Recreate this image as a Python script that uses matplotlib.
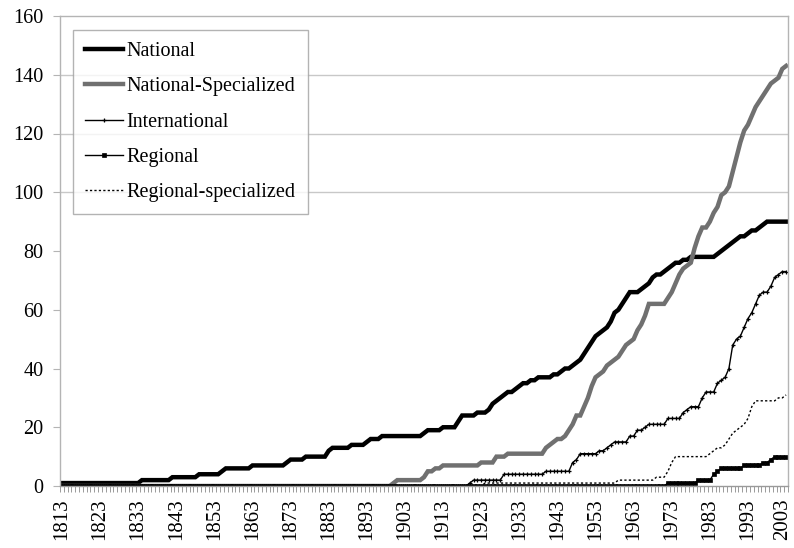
import matplotlib
matplotlib.use('Agg')
import matplotlib.pyplot as plt
from matplotlib.ticker import FixedLocator
from matplotlib.transforms import ScaledTranslation

plt.rcParams['font.family'] = ['Liberation Serif', 'DejaVu Serif']

# one value per year, 1813 -> 2003 (rows = decades starting 1813, 1823, ...)
YEARS = list(range(1813, 2004))

NATIONAL = (
    [1] * 20
    + [1, 2, 2, 2, 2, 2, 2, 2, 2, 3]
    + [3, 3, 3, 3, 3, 3, 4, 4, 4, 4]
    + [4, 4, 5, 6, 6, 6, 6, 6, 6, 6]
    + [7, 7, 7, 7, 7, 7, 7, 7, 7, 8]
    + [9, 9, 9, 9, 10, 10, 10, 10, 10, 10]
    + [12, 13, 13, 13, 13, 13, 14, 14, 14, 14]
    + [15, 16, 16, 16, 17, 17, 17, 17, 17, 17]
    + [17, 17, 17, 17, 17, 18, 19, 19, 19, 19]
    + [20, 20, 20, 20, 22, 24, 24, 24, 24, 25]
    + [25, 25, 26, 28, 29, 30, 31, 32, 32, 33]
    + [34, 35, 35, 36, 36, 37, 37, 37, 37, 38]
    + [38, 39, 40, 40, 41, 42, 43, 45, 47, 49]
    + [51, 52, 53, 54, 56, 59, 60, 62, 64, 66]
    + [66, 66, 67, 68, 69, 71, 72, 72, 73, 74]
    + [75, 76, 76, 77, 77, 78, 78, 78, 78, 78]
    + [78, 78, 79, 80, 81, 82, 83, 84, 85, 85]
    + [86, 87, 87, 88, 89, 90, 90, 90, 90, 90]
    + [90]
)

NATIONAL_SPEC = (
    [0] * 80
    + [0, 0, 0, 0, 0, 0, 0, 1, 2, 2]
    + [2, 2, 2, 2, 2, 3, 5, 5, 6, 6]
    + [7, 7, 7, 7, 7, 7, 7, 7, 7, 7]
    + [8, 8, 8, 8, 10, 10, 10, 11, 11, 11]
    + [11, 11, 11, 11, 11, 11, 11, 13, 14, 15]
    + [16, 16, 17, 19, 21, 24, 24, 27, 30, 34]
    + [37, 38, 39, 41, 42, 43, 44, 46, 48, 49]
    + [50, 53, 55, 58, 62, 62, 62, 62, 62, 64]
    + [66, 69, 72, 74, 75, 76, 81, 85, 88, 88]
    + [90, 93, 95, 99, 100, 102, 107, 112, 117, 121]
    + [123, 126, 129, 131, 133, 135, 137, 138, 139, 142]
    + [143]
)

INTERNATIONAL = (
    [0] * 100
    + [0, 0, 0, 0, 0, 0, 0, 1, 2, 2]
    + [2, 2, 2, 2, 2, 2, 4, 4, 4, 4]
    + [4, 4, 4, 4, 4, 4, 4, 5, 5, 5]
    + [5, 5, 5, 5, 8, 9, 11, 11, 11, 11]
    + [11, 12, 12, 13, 14, 15, 15, 15, 15, 17]
    + [17, 19, 19, 20, 21, 21, 21, 21, 21, 23]
    + [23, 23, 23, 25, 26, 27, 27, 27, 30, 32]
    + [32, 32, 35, 36, 37, 40, 48, 50, 51, 54]
    + [57, 59, 62, 65, 66, 66, 68, 71, 72, 73]
    + [73]
)

REGIONAL = (
    [0] * 150
    + [0, 0, 0, 0, 0, 0, 0, 0, 0, 1]
    + [1, 1, 1, 1, 1, 1, 1, 2, 2, 2]
    + [2, 4, 5, 6, 6, 6, 6, 6, 6, 7]
    + [7, 7, 7, 7, 8, 8, 9, 10, 10, 10]
    + [10]
)

REGIONAL_SPEC = (
    [0] * 110
    + [0, 1, 1, 1, 1, 1, 1, 1, 1, 1]
    + [1, 1, 1, 1, 1, 1, 1, 1, 1, 1]
    + [1, 1, 1, 1, 1, 1, 1, 1, 1, 1]
    + [1, 1, 1, 1, 1, 1, 2, 2, 2, 2]
    + [2, 2, 2, 2, 2, 2, 3, 3, 3, 5]
    + [8, 10, 10, 10, 10, 10, 10, 10, 10, 10]
    + [11, 12, 13, 13, 14, 16, 18, 19, 20, 21]
    + [23, 27, 29, 29, 29, 29, 29, 29, 30, 30]
    + [31]
)

LABEL_YEARS = list(range(1813, 2004, 10))
Y_TICKS = [0, 20, 40, 60, 80, 100, 120, 140, 160]
GRID_LEVELS = [100, 120, 140]

GRAY_FRAME = '#b4b4b4'

fig = plt.figure(figsize=(7.94, 5.48), dpi=100)
ax = fig.add_axes([60 / 794, 62 / 548, 728 / 794, 470 / 548])

for lvl in GRID_LEVELS:
    ax.axhline(lvl, color='#c8c8c8', lw=1.0, zorder=0)

ax.plot(YEARS, NATIONAL, color='black', lw=3.2, label='National',
        solid_joinstyle='miter')
ax.plot(YEARS, NATIONAL_SPEC, color='#707070', lw=3.2,
        label='National-Specialized', solid_joinstyle='miter')
ax.plot(YEARS, INTERNATIONAL, color='black', lw=1.0, marker='+',
        ms=3.5, mew=0.9, label='International')
ax.plot(YEARS, REGIONAL, color='black', lw=1.0, marker='s', ms=2.4,
        mew=0.5, label='Regional')
ax.plot(YEARS, REGIONAL_SPEC, color='black', lw=1.0, ls=(0, (1.6, 1.6)),
        label='Regional-specialized')

ax.set_xlim(1812.5, 2003.5)
ax.set_ylim(0, 160)

ax.set_yticks(Y_TICKS)
ax.tick_params(axis='y', direction='out', length=5, width=0.8,
               color=GRAY_FRAME, labelsize=14.5, pad=7)

ax.xaxis.set_major_locator(FixedLocator(LABEL_YEARS))
ax.xaxis.set_minor_locator(FixedLocator([y - 0.5 for y in YEARS] + [2003.5]))
ax.set_xticklabels([str(y) for y in LABEL_YEARS], rotation=90)
ax.tick_params(axis='x', which='major', length=0, labelsize=15, pad=9)
ax.tick_params(axis='x', which='minor', direction='out', length=4,
               width=0.7, color='#9a9a9a')

# nudge the last year label so it stays inside the image
last = ax.get_xticklabels()[-1]
last.set_transform(last.get_transform()
                   + ScaledTranslation(-3 / 100, 0, fig.dpi_scale_trans))

for side in ['left', 'top', 'right', 'bottom']:
    ax.spines[side].set_color(GRAY_FRAME)
    ax.spines[side].set_linewidth(1.0)
ax.spines['bottom'].set_color('#9a9a9a')

leg = ax.legend(loc='upper left', bbox_to_anchor=(0.018, 0.970),
                borderaxespad=0, fontsize=14.5, frameon=True, fancybox=False,
                handlelength=1.9, handletextpad=0.15, labelspacing=0.8,
                borderpad=0.6)
leg.get_frame().set_edgecolor('#a0a0a0')
leg.get_frame().set_linewidth(1.0)

fig.savefig('out.png', dpi=100)
